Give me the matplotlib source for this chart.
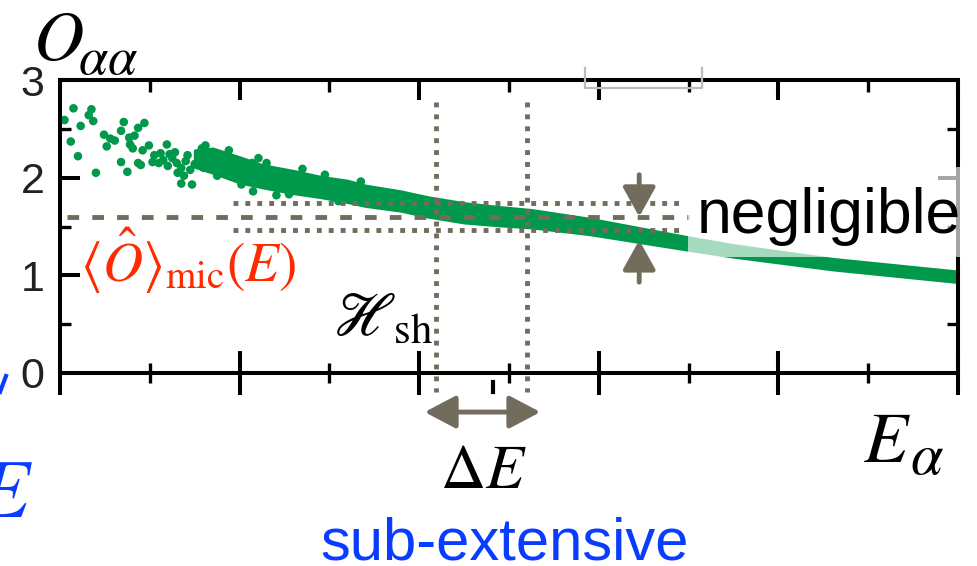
import numpy as np
import matplotlib
matplotlib.use("Agg")
import matplotlib.pyplot as plt
from matplotlib.patches import Rectangle
from matplotlib.lines import Line2D

plt.rcParams['mathtext.fontset'] = 'stix'
plt.rcParams['font.family'] = ['Liberation Sans', 'DejaVu Sans']

W, H = 978, 566
green = '#00984a'
grey = '#726c5c'
red = '#ff2a00'
blue = '#0a3cff'

# sparse eigenstate points at low energy
scat_x = [0.15, 0.35, 0.32, 0.05, 0.37, 0.23, 0.71, 0.94, 0.87, 0.68, 0.49, 0.56,
          0.61, 0.77, 0.83, 0.12, 0.52, 0.78, 0.81, 0.92, 0.99, 1.19, 1.05, 0.20,
          0.68, 0.87, 0.90, 1.03, 1.10, 0.40, 0.75, 1.35, 1.47, 1.58, 1.15, 1.20,
          1.25, 1.30, 1.35, 1.40, 1.45, 1.50, 1.55, 1.22, 1.31, 1.42, 1.60, 2.15,
          2.41, 2.21, 2.14, 1.28, 1.12, 1.38, 1.62, 1.75, 1.88, 2.02, 2.30, 2.55,
          2.70, 2.95, 3.10, 3.35]
scat_y = [2.71, 2.70, 2.64, 2.59, 2.58, 2.53, 2.57, 2.56, 2.51, 2.48, 2.44, 2.40,
          2.38, 2.41, 2.43, 2.37, 2.32, 2.34, 2.30, 2.28, 2.33, 2.34, 2.23, 2.22,
          2.16, 2.15, 2.13, 2.16, 2.15, 2.05, 2.06, 1.94, 1.93, 2.30, 2.18, 2.12,
          2.20, 2.15, 2.10, 2.17, 2.08, 2.14, 2.20, 2.24, 2.05, 2.23, 2.10, 1.86,
          1.82, 2.20, 2.15, 2.26, 2.25, 2.02, 2.33, 2.02, 2.28, 1.93, 2.15, 1.83,
          2.09, 2.03, 1.76, 1.96]

# dense band of eigenstate expectation values
band_x = [1.5, 1.7, 2.0, 2.25, 2.6, 2.9, 3.2, 3.4, 3.8, 4.1, 4.5, 4.9, 5.25, 5.9, 7.0, 7.5, 8.6, 10.0]
band_hi = [2.28, 2.30, 2.21, 2.13, 2.07, 2.01, 1.97, 1.92, 1.86, 1.80, 1.74, 1.70, 1.67, 1.58, 1.39, 1.31, 1.17, 1.04]
band_lo = [2.11, 2.05, 1.95, 1.90, 1.84, 1.80, 1.75, 1.71, 1.66, 1.60, 1.54, 1.51, 1.49, 1.42, 1.26, 1.19, 1.06, 0.93]

mic_value = 1.60
shell_hi, shell_lo = 1.74, 1.46
shell_edges = [4.19, 5.20]
arrow_x = 6.45


def fx(px):
    return px / W


def fy(py):
    return 1 - py / H


fig = plt.figure(figsize=(W / 100, H / 100), dpi=100)
ax = fig.add_axes([fx(60), fy(373), fx(958) - fx(60), fy(80) - fy(373)])
ax.set_xlim(0, 10)
ax.set_ylim(0, 3)

ax.scatter(scat_x, scat_y, s=38, color=green, edgecolors='none', zorder=2, clip_on=False)
ax.fill_between(band_x, band_lo, band_hi, color=green, edgecolor=green, lw=2,
                joinstyle='round', zorder=2)

# microcanonical average and energy shell
ax.plot([0.08, 7.0], [mic_value] * 2, color=grey, lw=3.5, ls=(0, (2.4, 2.7)), zorder=3)
for yv in (shell_hi, shell_lo):
    ax.plot([1.93, 6.9], [yv, yv], color=grey, lw=3.5, ls=(0, (1, 1.45)), zorder=3)
for xv in shell_edges:
    ax.plot([xv, xv], [2.77, -0.19], color=grey, lw=3.5, ls=(0, (1, 1.45)), zorder=3, clip_on=False)

ax.annotate('', xy=(shell_edges[0] - 0.13, -0.40), xytext=(shell_edges[1] + 0.15, -0.40),
            arrowprops=dict(arrowstyle='<|-|>,head_length=19,head_width=10', mutation_scale=1,
                            color=grey, lw=3.5, shrinkA=0, shrinkB=0),
            annotation_clip=False)
ax.annotate('', xy=(arrow_x, 1.60), xytext=(arrow_x, 2.03),
            arrowprops=dict(arrowstyle='-|>,head_length=18,head_width=10', mutation_scale=1,
                            color=grey, lw=3.5, shrinkA=0, shrinkB=0))
ax.annotate('', xy=(arrow_x, 1.36), xytext=(arrow_x, 0.93),
            arrowprops=dict(arrowstyle='-|>,head_length=18,head_width=10', mutation_scale=1,
                            color=grey, lw=3.5, shrinkA=0, shrinkB=0))

# axes styling
for s in ax.spines.values():
    s.set_linewidth(2.9)
ax.set_xticks([0, 2, 4, 6, 8, 10])
ax.set_xticks([1, 3, 5, 7, 9], minor=True)
ax.set_yticks([0, 1, 2, 3])
ax.set_yticks([0.5, 1.5, 2.5], minor=True)
ax.set_yticklabels(['0', '1', '2', '3'])
ax.tick_params(axis='x', which='major', direction='inout', length=32, width=2.9,
               labelbottom=False, top=False)
ax.tick_params(axis='x', which='minor', direction='inout', length=15, width=2.4, top=False)
ax.tick_params(axis='y', which='major', direction='in', length=14.5, width=2.9,
               left=True, right=True, labelsize=31, labelcolor='#222222', pad=11)
ax.tick_params(axis='y', which='minor', direction='in', length=8, width=2.4, left=True, right=True)

sec = ax.secondary_xaxis('top')
sec.set_xticks([0, 2, 4, 6, 8, 10])
sec.set_xticks([1, 3, 5, 7, 9], minor=True)
sec.tick_params(which='major', direction='in', length=14.5, width=2.9, labeltop=False)
sec.tick_params(which='minor', direction='in', length=8.5, width=2.4)
sec.spines['top'].set_linewidth(2.9)

# faded overlay from the pasted label box
ax.add_patch(Rectangle((fx(688), fy(257)), fx(962) - fx(688), fy(167) - fy(257),
                       transform=fig.transFigure, facecolor='white', alpha=0.65,
                       edgecolor='none', zorder=4, clip_on=False))
fig.add_artist(Line2D([fx(v) for v in [585, 585, 702, 702]], [fy(v) for v in [68, 88, 88, 68]],
                      color='#bbbbbb', lw=1.6))
ax.plot([4.82, 4.82], [-0.09, -0.19], color='black', lw=3, clip_on=False, zorder=3)

# labels
fig.text(fx(33), fy(60), r'$O$', fontsize=50, va='baseline')
fig.text(fx(78), fy(74), r'$\alpha\alpha$', fontsize=38, va='baseline')
fig.text(fx(80), fy(282), r'$\langle\hat{O}\rangle_{\mathrm{mic}}(E)$', fontsize=40,
         color=red, va='baseline')
fig.text(fx(333), fy(335), r'$\mathscr{H}_{\mathrm{sh}}$', fontsize=44, va='baseline')
fig.text(fx(697), fy(233), 'negligible', fontsize=45, va='baseline', zorder=5)
fig.text(fx(863), fy(462), r'$E$', fontsize=52, va='baseline')
fig.text(fx(910), fy(474), r'$\alpha$', fontsize=42, va='baseline')
fig.text(fx(440), fy(488), r'$\Delta E$', fontsize=45, va='baseline')
fig.text(fx(320), fy(559), 'sub-extensive', fontsize=43, va='baseline', color=blue)
fig.text(fx(33), fy(517), r'$E$', fontsize=60, va='baseline', ha='right', color=blue)
fig.add_artist(Line2D([fx(0), fx(6)], [fy(392), fy(376)], color=blue, lw=3))

fig.savefig('out.png', dpi=100)
